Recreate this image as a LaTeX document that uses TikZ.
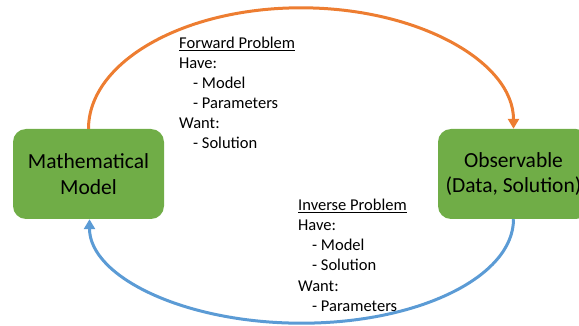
\documentclass[tikz,border=0pt]{standalone}
\usepackage{fontspec}
\setmainfont{Carlito}
\usetikzlibrary{arrows.meta}
\definecolor{boxgreen}{HTML}{70AD47}
\definecolor{fwdorange}{HTML}{ED7D31}
\definecolor{invblue}{HTML}{5B9BD5}
\begin{document}
\begin{tikzpicture}[x=1pt,y=-1pt,
  modelbox/.style={fill=boxgreen,rounded corners=13pt,minimum width=151pt,minimum height=90pt,
    align=center,inner sep=0pt,font=\fontsize{21.5}{25.5}\selectfont},
  txt/.style={anchor=base west,inner sep=0pt,font=\fontsize{16.5}{20}\selectfont},
  flow/.style={line width=3pt,-{Triangle[length=10pt,width=11pt]}}]
\useasboundingbox (0,0) rectangle (579,326);
\begin{scope}
\clip (0,0) rectangle (579,326);
\node[modelbox] (model) at (88.5,174) {Mathematical\\Model};
\node[modelbox] (obs) at (513.5,174) {Observable\\(Data, Solution)};
\end{scope}
% forward problem
\draw[flow,fwdorange] (model.north) arc[start angle=180,end angle=0,x radius=212.5pt,y radius=121pt];
% inverse problem
\draw[flow,invblue] (obs.south) arc[start angle=0,end angle=-180,x radius=212pt,y radius=104pt];
% forward problem text
\node[txt] (f1) at (179,49) {\underline{Forward Problem}};
\node[txt] (f2) at (179,69) {Have:};
\node[txt] (f3) at (193,89) {- Model};
\node[txt] (f4) at (193,109) {- Parameters};
\node[txt] (f5) at (179,129) {Want:};
\node[txt] (f6) at (193,149) {- Solution};
% inverse problem text
\node[txt] (i1) at (298,211) {\underline{Inverse Problem}};
\node[txt] (i2) at (298,231) {Have:};
\node[txt] (i3) at (312,251) {- Model};
\node[txt] (i4) at (312,271) {- Solution};
\node[txt] (i5) at (298,291) {Want:};
\node[txt] (i6) at (312,311) {- Parameters};
\end{tikzpicture}
\end{document}
